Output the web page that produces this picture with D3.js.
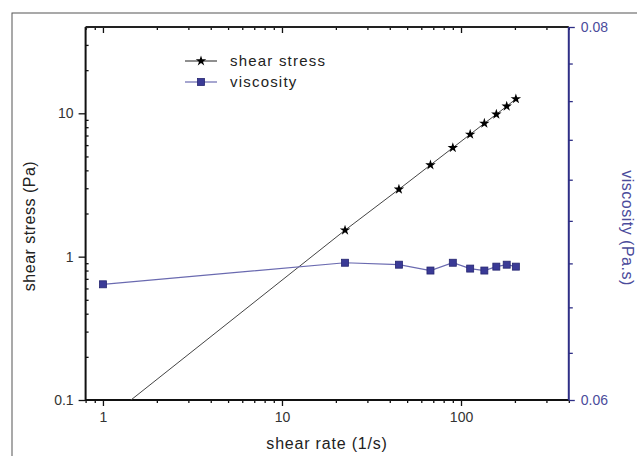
<!DOCTYPE html>
<html>
<head>
<meta charset="utf-8">
<script src="https://cdn.jsdelivr.net/npm/d3@7"></script>
<style>
  body { margin: 0; background: #fff; }
  svg { font-family: Arial, "Liberation Sans", sans-serif; }
  .tick text { fill: #333; font-size: 14px; }
</style>
</head>
<body>
<svg width="637" height="456"></svg>
<script>
// data
var shearRate = [1, 22.5, 45, 67.5, 90, 112.5, 135, 157.5, 180, 202.5]
var shearStress = [0.07, 1.53, 2.95, 4.36, 5.75, 7.13, 8.51, 9.84, 11.2, 12.6]
var viscosity = [0.0656, 0.0667, 0.0666, 0.0663, 0.0667, 0.0664, 0.0663, 0.0665, 0.0666, 0.0665]

var xMajor = [1, 10, 100]
var yMajor = [0.1, 1, 10]
var yLabels = ['0.1', '1', '10']
var rightLabels = ['0.06', '0.08']
var seriesNames = ['shear stress', 'viscosity']

var pLeft = 85.6, pRight = 568.8, pTop = 27, pBottom = 400
var navy = '#2f2f86'

var svg = d3.select('svg')

// outer frame
svg.append('rect')
  .attr('x', 12).attr('y', 13)
  .attr('width', 700).attr('height', 500)
  .attr('fill', 'none').attr('stroke', '#555').attr('stroke-width', 1)

var x = d3.scaleLog().domain([0.8, 400]).range([pLeft, pRight])
var y = d3.scaleLog().domain([0.1, 40]).range([pBottom, pTop])
var y2 = d3.scaleLog().domain([0.06, 0.08]).range([pBottom, pTop])

var xMinor = x.ticks().filter(function(d) { return xMajor.indexOf(d) < 0 })
var yMinor = y.ticks().filter(function(d) { return yMajor.indexOf(d) < 0 })
var rightTicks = d3.range(10).map(function(k) { return 0.06 + k * 0.02 / 9 })

function clean(g) {
  g.select('.domain').remove()
  g.selectAll('.tick line').attr('stroke', '#111').attr('stroke-width', 1.3)
}

// bottom axis
svg.append('g').attr('transform', 'translate(0,' + pBottom + ')')
  .call(d3.axisBottom(x).tickValues(xMajor).tickSize(6).tickPadding(6)
    .tickFormat(d3.format('d')))
  .call(clean)
svg.append('g').attr('transform', 'translate(0,' + pBottom + ')')
  .call(d3.axisBottom(x).tickValues(xMinor).tickSize(3).tickFormat(''))
  .call(clean)

// top axis (ticks inward)
svg.append('g').attr('transform', 'translate(0,' + pTop + ')')
  .call(d3.axisBottom(x).tickValues(xMajor).tickSize(6).tickFormat(''))
  .call(clean)
svg.append('g').attr('transform', 'translate(0,' + pTop + ')')
  .call(d3.axisBottom(x).tickValues(xMinor).tickSize(3).tickFormat(''))
  .call(clean)

// left axis
svg.append('g').attr('transform', 'translate(' + pLeft + ',0)')
  .call(d3.axisLeft(y).tickValues(yMajor).tickSize(7).tickPadding(5)
    .tickFormat(function(d, i) { return yLabels[i] }))
  .call(clean)
svg.append('g').attr('transform', 'translate(' + pLeft + ',0)')
  .call(d3.axisRight(y).tickValues(yMinor).tickSize(3).tickFormat(''))
  .call(clean)

// right axis (viscosity)
var ra = svg.append('g').attr('transform', 'translate(' + pRight + ',0)')
  .call(d3.axisRight(y2).tickValues(rightTicks).tickSize(4).tickPadding(8)
    .tickFormat(function(d, i) {
      return i == 0 ? rightLabels[0] : (i == 9 ? rightLabels[1] : '')
    }))
ra.select('.domain').remove()
ra.selectAll('.tick line').attr('stroke', navy).attr('stroke-width', 1.3)
ra.selectAll('.tick line').filter(function(d, i) { return i == 0 || i == 9 }).attr('x2', 6)
ra.selectAll('.tick text').style('fill', '#4b4b9b')

// axis lines
svg.append('path')
  .attr('d', 'M' + pLeft + ',' + pTop + 'V' + pBottom + 'H' + pRight)
  .attr('fill', 'none').attr('stroke', '#111').attr('stroke-width', 2)
svg.append('path')
  .attr('d', 'M' + pLeft + ',' + pTop + 'H' + pRight)
  .attr('fill', 'none').attr('stroke', '#222').attr('stroke-width', 2)
svg.append('path')
  .attr('d', 'M' + pRight + ',' + pTop + 'V' + pBottom)
  .attr('fill', 'none').attr('stroke', navy).attr('stroke-width', 2)

// clip
svg.append('clipPath').attr('id', 'plot')
  .append('rect').attr('x', pLeft).attr('y', pTop)
  .attr('width', pRight - pLeft).attr('height', pBottom - pTop)

var plot = svg.append('g').attr('clip-path', 'url(#plot)')

var stressPts = shearRate.map(function(r, i) { return [r, shearStress[i]] })
var viscPts = shearRate.map(function(r, i) { return [r, viscosity[i]] })

plot.append('path')
  .datum(stressPts)
  .attr('d', d3.line().x(function(d) { return x(d[0]) }).y(function(d) { return y(d[1]) }))
  .attr('fill', 'none').attr('stroke', '#444').attr('stroke-width', 1)

plot.append('path')
  .datum(viscPts)
  .attr('d', d3.line().x(function(d) { return x(d[0]) }).y(function(d) { return y2(d[1]) }))
  .attr('fill', 'none').attr('stroke', '#6a6ab0').attr('stroke-width', 1.2)

var star = d3.symbol().type(d3.symbolStar).size(34)
plot.selectAll('.star')
  .data(stressPts.filter(function(d) { return d[1] >= 0.1 }))
  .enter().append('path')
  .attr('class', 'star')
  .attr('d', star)
  .attr('transform', function(d) { return 'translate(' + x(d[0]) + ',' + y(d[1]) + ')' })
  .attr('fill', '#000')

plot.selectAll('.sq')
  .data(viscPts)
  .enter().append('rect')
  .attr('class', 'sq')
  .attr('x', function(d) { return x(d[0]) - 3.5 })
  .attr('y', function(d) { return y2(d[1]) - 3.5 })
  .attr('width', 7).attr('height', 7)
  .attr('fill', '#3a3a96').attr('stroke', '#262670').attr('stroke-width', 0.8)

// legend
var lg = svg.append('g')
seriesNames.forEach(function(name, i) {
  var ly = 61 + i * 21
  lg.append('line').attr('x1', 185).attr('x2', 217).attr('y1', ly).attr('y2', ly)
    .attr('stroke', i == 0 ? '#444' : '#6a6ab0').attr('stroke-width', 1.2)
  if (i == 0) {
    lg.append('path').attr('d', star).attr('transform', 'translate(201,' + ly + ')').attr('fill', '#000')
  } else {
    lg.append('rect').attr('x', 201 - 3.5).attr('y', ly - 3.5).attr('width', 7).attr('height', 7)
      .attr('fill', '#3a3a96').attr('stroke', '#262670').attr('stroke-width', 0.8)
  }
  lg.append('text').attr('x', 230).attr('y', ly + 5)
    .attr('font-size', 15).attr('letter-spacing', 1.2).attr('fill', '#222')
    .text(name)
})

// axis titles
svg.append('text')
  .attr('x', 327).attr('y', 449)
  .attr('text-anchor', 'middle').attr('font-size', 16).attr('letter-spacing', 0.8)
  .attr('fill', '#222')
  .text('shear rate (1/s)')

svg.append('text')
  .attr('transform', 'translate(35,226) rotate(-90)')
  .attr('text-anchor', 'middle').attr('font-size', 16).attr('letter-spacing', 0.5)
  .attr('fill', '#222')
  .text('shear stress (Pa)')

svg.append('text')
  .attr('transform', 'translate(622,228) rotate(90)')
  .attr('text-anchor', 'middle').attr('font-size', 16).attr('letter-spacing', 0.5)
  .attr('fill', '#4b4b9b')
  .text('viscosity (Pa.s)')
</script>
</body>
</html>
